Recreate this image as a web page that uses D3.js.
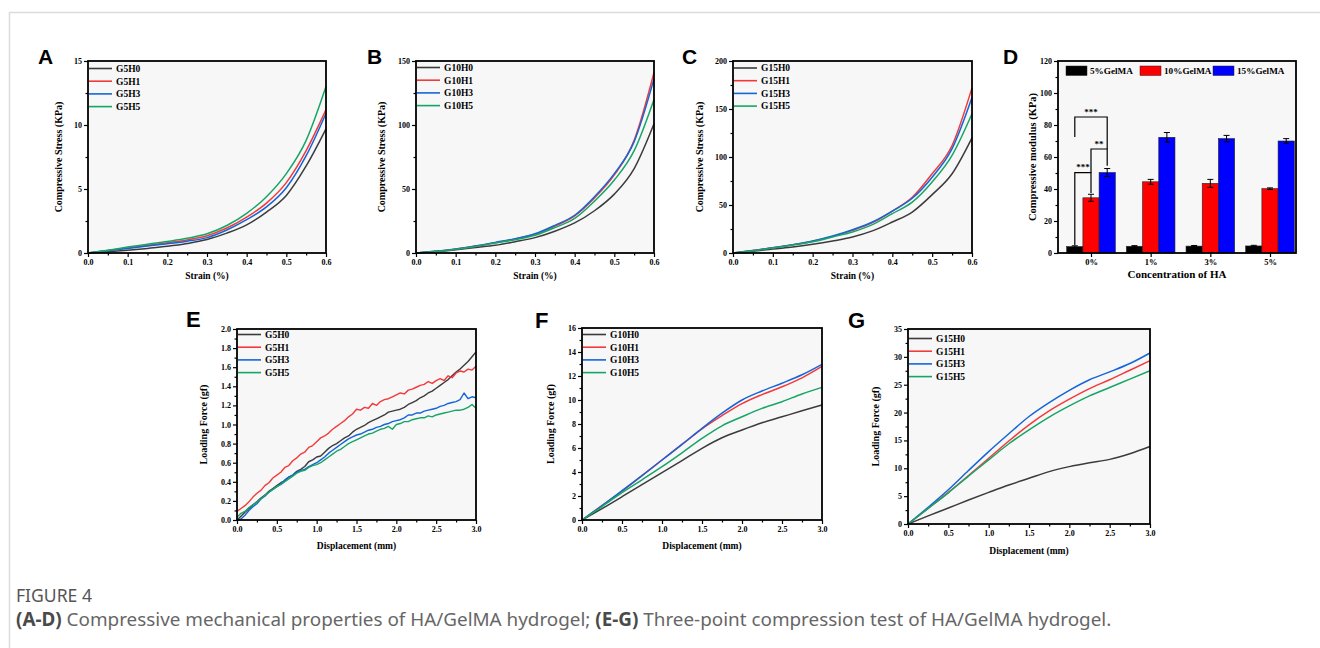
<!DOCTYPE html>
<html><head><meta charset="utf-8">
<script src="https://cdn.jsdelivr.net/npm/d3@7"></script>
<style>
html,body{margin:0;padding:0;background:#fff;}
svg{display:block;}
</style></head>
<body>
<svg id="fig" width="1320" height="648"></svg>
<script>
// ---------------- DATA ----------------
const strainX = [0,0.05,0.1,0.15,0.2,0.25,0.3,0.35,0.4,0.45,0.5,0.55,0.6];
const namesA = ["G5H0","G5H1","G5H3","G5H5"];
const G5H0_s = [0,0.1,0.22,0.36,0.52,0.74,1.05,1.55,2.2,3.2,4.5,6.8,9.7];
const G5H1_s = [0,0.2,0.4,0.6,0.8,1.02,1.35,1.95,2.8,3.9,5.5,8.0,11.2];
const G5H3_s = [0,0.18,0.36,0.54,0.72,0.92,1.2,1.8,2.6,3.6,5.1,7.6,10.9];
const G5H5_s = [0,0.22,0.46,0.68,0.9,1.15,1.5,2.15,3.1,4.4,6.2,8.8,13.0];

const namesB = ["G10H0","G10H1","G10H3","G10H5"];
const G10H0_s = [0,1.1,2.6,4.3,6,8.8,12,17,23.5,33,46,66,101];
const G10H1_s = [0,1.3,3.0,5.4,8.1,11,14.6,21,29,43,61,88,141];
const G10H3_s = [0,1.3,3.1,5.5,8.3,11.2,15,21.6,29.5,44,62,87,136];
const G10H5_s = [0,1.2,2.9,5.1,7.8,10.4,13.8,19.8,27,40.5,57,80,120];

const namesC = ["G15H0","G15H1","G15H3","G15H5"];
const G15H0_s = [0,1.8,4.2,6.2,9,12.5,16.7,23,32.3,42.7,60.8,82.6,120];
const G15H1_s = [0,2.5,5.4,8.6,12.3,17.3,23.6,31.6,43.7,58,82.6,112,172];
const G15H3_s = [0,2.5,5.5,8.7,12.5,17.7,24.3,32.3,43.7,57,79,108.7,162];
const G15H5_s = [0,2.4,5.2,8.3,11.8,16.7,21.9,29.5,41,53,74,101.7,145];

const haCats = ["0%","1%","3%","5%"];
const gelNames = ["5%GelMA","10%GelMA","15%GelMA"];
const mod5 = [4.0,4.2,4.3,4.4];
const mod5Err = [0.5,0.4,0.4,0.4];
const mod10 = [34.5,44.5,43.5,40.2];
const mod10Err = [2.2,1.5,2.5,0.5];
const mod15 = [50.3,72.3,71.5,70.0];
const mod15Err = [2.5,3.0,2.0,1.5];
const sigBrackets = [
  {a:0,b:1,y:50.2,aEnd:5,bEnd:37.5,label:"***"},
  {a:1,b:2,y:65,aEnd:50.2,bEnd:54.5,label:"**"},
  {a:0,b:2,y:85,aEnd:72.5,bEnd:65,label:"***"}
];

const dispE = d3.range(0,61).map(i=>+(i*0.05).toFixed(2));
const G5H0_f = [0.00,0.04,0.08,0.12,0.16,0.19,0.23,0.26,0.30,0.33,0.36,0.39,0.41,0.45,0.47,0.51,0.53,0.56,0.61,0.63,0.66,0.67,0.71,0.75,0.78,0.80,0.83,0.86,0.88,0.92,0.95,0.97,0.99,1.02,1.04,1.06,1.08,1.10,1.13,1.14,1.15,1.16,1.18,1.21,1.23,1.25,1.28,1.30,1.33,1.35,1.38,1.41,1.44,1.47,1.51,1.55,1.58,1.62,1.66,1.71,1.76];
const G5H1_f = [0.09,0.12,0.15,0.19,0.24,0.28,0.31,0.36,0.39,0.44,0.47,0.50,0.55,0.57,0.62,0.65,0.69,0.71,0.76,0.78,0.82,0.86,0.88,0.91,0.95,0.98,1.01,1.04,1.08,1.11,1.16,1.15,1.18,1.17,1.22,1.20,1.24,1.26,1.27,1.29,1.31,1.33,1.32,1.36,1.37,1.39,1.41,1.42,1.45,1.43,1.46,1.48,1.46,1.51,1.49,1.54,1.56,1.55,1.58,1.57,1.61];
const G5H3_f = [0.00,0.01,0.05,0.10,0.14,0.17,0.22,0.25,0.29,0.32,0.35,0.38,0.42,0.45,0.47,0.50,0.52,0.53,0.56,0.58,0.60,0.63,0.66,0.70,0.73,0.76,0.79,0.82,0.85,0.87,0.89,0.90,0.92,0.94,0.95,0.97,0.98,1.00,1.01,1.03,1.04,1.05,1.07,1.10,1.10,1.12,1.12,1.14,1.15,1.16,1.17,1.19,1.20,1.22,1.23,1.24,1.26,1.33,1.27,1.29,1.28];
const G5H5_f = [0.03,0.07,0.09,0.13,0.16,0.19,0.22,0.26,0.29,0.32,0.35,0.37,0.40,0.43,0.46,0.49,0.51,0.52,0.55,0.57,0.58,0.60,0.63,0.66,0.69,0.72,0.74,0.77,0.80,0.82,0.84,0.86,0.88,0.90,0.91,0.93,0.95,0.96,0.98,0.95,1.00,1.01,1.03,1.03,1.05,1.06,1.07,1.07,1.09,1.08,1.10,1.11,1.12,1.13,1.14,1.15,1.15,1.16,1.18,1.21,1.17];

const dispX = [0,0.25,0.5,0.75,1.0,1.25,1.5,1.75,2.0,2.25,2.5,2.75,3.0];
const G10H0_f = [0,0.95,1.94,2.95,3.94,4.95,5.97,6.85,7.5,8.1,8.6,9.1,9.58];
const G10H1_f = [0,1.2,2.4,3.7,5.0,6.3,7.6,8.7,9.7,10.45,11.1,11.85,12.8];
const G10H3_f = [0,1.2,2.44,3.7,5.0,6.3,7.64,8.9,10.0,10.75,11.4,12.1,12.97];
const G10H5_f = [0,1.12,2.28,3.35,4.44,5.6,6.8,7.85,8.6,9.3,9.86,10.5,11.05];

const G15H0_f = [0,1.45,2.86,4.3,5.67,7.0,8.2,9.4,10.3,11.0,11.6,12.6,13.9];
const G15H1_f = [0,2.8,5.67,8.7,11.8,14.9,17.8,20.3,22.4,24.3,25.9,27.6,29.3];
const G15H3_f = [0,3.0,6.14,9.6,13.0,16.2,19.3,21.8,24.0,25.9,27.3,28.8,30.7];
const G15H5_f = [0,2.8,5.6,8.6,11.5,14.4,16.9,19.2,21.2,23.0,24.5,26.0,27.5];

const strainTicks = [0,0.1,0.2,0.3,0.4,0.5,0.6];
const dispTicks = [0,0.5,1.0,1.5,2.0,2.5,3.0];

// ---------------- STYLE ----------------
const lineColors = ["#3b3b3b","#f23a3a","#1565d8","#17a566"];
const barColors = ["#000000","#ff0000","#0000ff"];
const SERIF = "'Liberation Serif','Times New Roman',serif";
const SANS = "'Liberation Sans',Arial,sans-serif";
const svg = d3.select("#fig");

svg.append("line").attr("x1",9).attr("x2",1320).attr("y1",12.5).attr("y2",12.5).attr("stroke","#dcdcdc").attr("stroke-width",1.5);
svg.append("line").attr("x1",9.5).attr("x2",9.5).attr("y1",12).attr("y2",648).attr("stroke","#dcdcdc").attr("stroke-width",1.5);

function panel(o){
  const g = svg.append("g");
  const {l,r,t,b} = o.box;
  g.append("rect").attr("x",l).attr("y",t).attr("width",r-l).attr("height",b-t).attr("fill","#f7f7f7");
  return g;
}

function styleAxis(sel, fs){
  sel.selectAll(".domain").remove();
  sel.selectAll(".tick line").attr("stroke","#000").attr("stroke-width",1.2);
  sel.selectAll(".tick text").attr("font-family",SERIF).attr("font-weight","bold").attr("font-size",fs||8).attr("fill","#000");
}

function axes(g,o){
  const {l,r,t,b} = o.box;
  if(o.xMinor){
    const ax = g.append("g").attr("transform",`translate(0,${b})`).call(d3.axisBottom(o.xs).tickValues(o.xMinor).tickSize(2.5).tickFormat(""));
    styleAxis(ax);
  }
  if(o.yMinor){
    const ay = g.append("g").attr("transform",`translate(${l},0)`).call(d3.axisLeft(o.ys).tickValues(o.yMinor).tickSize(2.5).tickFormat(""));
    styleAxis(ay);
  }
  if(o.xTicks){
    const ax = g.append("g").attr("transform",`translate(0,${b})`).call(d3.axisBottom(o.xs).tickValues(o.xTicks).tickSize(4).tickPadding(2).tickFormat(o.xFmt));
    styleAxis(ax,o.xfs);
  }
  const ay = g.append("g").attr("transform",`translate(${l},0)`).call(d3.axisLeft(o.ys).tickValues(o.yTicks).tickSize(4).tickPadding(2).tickFormat(o.yFmt));
  styleAxis(ay);
  g.append("rect").attr("x",l).attr("y",t).attr("width",r-l).attr("height",b-t).attr("fill","none").attr("stroke","#000").attr("stroke-width",1.8);
  g.append("text").attr("x",(l+r)/2).attr("y",o.xTitleY).attr("text-anchor","middle")
    .attr("font-family",SERIF).attr("font-weight","bold").attr("font-size",o.xtfs||9.5).text(o.xTitle);
  g.append("text").attr("transform",`translate(${l-o.yTitleOff},${(t+b)/2}) rotate(-90)`).attr("text-anchor","middle")
    .attr("font-family",SERIF).attr("font-weight","bold").attr("font-size",o.ytfs||10).text(o.yTitle);
  g.append("text").attr("x",o.letterX).attr("y",o.letterY).attr("font-family",SANS).attr("font-weight","bold")
    .attr("font-size",o.letterFs||21).text(o.letter);
}

function legendLines(g,o,names,spacing){
  const {l,t} = o.box;
  names.forEach((n,i)=>{
    const y = t + o.legTop + i*spacing;
    g.append("line").attr("x1",l+1).attr("x2",l+24).attr("y1",y).attr("y2",y).attr("stroke",lineColors[i]).attr("stroke-width",1.6);
    g.append("text").attr("x",l+28).attr("y",y).attr("dy","0.35em").attr("font-family",SERIF).attr("font-weight","bold").attr("font-size",9.5).text(n);
  });
}

function linePanel(o){
  const g = panel(o);
  const line = d3.line().x(d=>o.xs(d[0])).y(d=>o.ys(d[1])).curve(o.curve||d3.curveMonotoneX);
  o.series.forEach((s,i)=>{
    g.append("path").datum(o.x.map((xv,j)=>[xv,s[j]])).attr("d",line).attr("fill","none")
      .attr("stroke",lineColors[i]).attr("stroke-width",o.sw||1.5).attr("stroke-linejoin","round");
  });
  legendLines(g,o,o.names,12.7);
  axes(g,o);
}

function mids(ticks){ const m=[]; for(let i=0;i<ticks.length-1;i++) m.push((ticks[i]+ticks[i+1])/2); return m; }

// ---- A ----
(function(){
  const box={l:88,r:326,t:61,b:253};
  const yT=[0,5,10,15];
  linePanel({box, xs:d3.scaleLinear([0,0.6],[box.l,box.r]), ys:d3.scaleLinear([0,15],[box.b,box.t]),
    x:strainX, series:[G5H0_s,G5H1_s,G5H3_s,G5H5_s], names:namesA, legTop:7.5,
    xTicks:strainTicks, xMinor:mids(strainTicks), yTicks:yT, yMinor:mids(yT),
    xFmt:d3.format(".1f"), yFmt:d3.format("d"),
    xTitle:"Strain (%)", xTitleY:279, yTitle:"Compressive Stress (KPa)", yTitleOff:26,
    letter:"A", letterX:38, letterY:64});
})();
// ---- B ----
(function(){
  const box={l:416,r:654,t:61,b:253};
  const yT=[0,50,100,150];
  linePanel({box, xs:d3.scaleLinear([0,0.6],[box.l,box.r]), ys:d3.scaleLinear([0,150],[box.b,box.t]),
    x:strainX, series:[G10H0_s,G10H1_s,G10H3_s,G10H5_s], names:namesB, legTop:6.5,
    xTicks:strainTicks, xMinor:mids(strainTicks), yTicks:yT, yMinor:mids(yT),
    xFmt:d3.format(".1f"), yFmt:d3.format("d"),
    xTitle:"Strain (%)", xTitleY:279, yTitle:"Compressive Stress (KPa)", yTitleOff:31,
    letter:"B", letterX:367, letterY:64});
})();
// ---- C ----
(function(){
  const box={l:733,r:972,t:61,b:253};
  const yT=[0,50,100,150,200];
  linePanel({box, xs:d3.scaleLinear([0,0.6],[box.l,box.r]), ys:d3.scaleLinear([0,200],[box.b,box.t]),
    x:strainX, series:[G15H0_s,G15H1_s,G15H3_s,G15H5_s], names:namesC, legTop:7,
    xTicks:strainTicks, xMinor:mids(strainTicks), yTicks:yT, yMinor:mids(yT),
    xFmt:d3.format(".1f"), yFmt:d3.format("d"),
    xTitle:"Strain (%)", xTitleY:279, yTitle:"Compressive Stress (KPa)", yTitleOff:30,
    letter:"C", letterX:682, letterY:64});
})();
// ---- D ----
(function(){
  const box={l:1058,r:1296,t:61,b:253};
  const g = panel({box});
  const xs = d3.scalePoint().domain(haCats).range([box.l+33,box.r-26]);
  const ys = d3.scaleLinear([0,120],[box.b,box.t]);
  const bw = 16.2;
  const groups=[mod5,mod10,mod15], errs=[mod5Err,mod10Err,mod15Err];
  const cx = (ci,si)=> xs(haCats[ci]) + (si-1)*bw;
  groups.forEach((vals,si)=>{
    vals.forEach((v,ci)=>{
      g.append("rect").attr("x",cx(ci,si)-bw/2).attr("y",ys(v)).attr("width",bw).attr("height",ys(0)-ys(v))
        .attr("fill",barColors[si]).attr("stroke","#222").attr("stroke-width",0.6);
      const e = errs[si][ci], xc=cx(ci,si);
      g.append("line").attr("x1",xc).attr("x2",xc).attr("y1",ys(v+e)).attr("y2",ys(v-e)).attr("stroke","#000").attr("stroke-width",1);
      [v+e,v-e].forEach(yy=>g.append("line").attr("x1",xc-3).attr("x2",xc+3).attr("y1",ys(yy)).attr("y2",ys(yy)).attr("stroke","#000").attr("stroke-width",1));
    });
  });
  sigBrackets.forEach(s=>{
    const xa=cx(0,s.a), xb=cx(0,s.b);
    g.append("path").attr("d",`M${xa},${ys(s.aEnd)}V${ys(s.y)}H${xb}V${ys(s.bEnd)}`).attr("fill","none").attr("stroke","#000").attr("stroke-width",1.2);
    g.append("text").attr("x",(xa+xb)/2).attr("y",ys(s.y)-2.5).attr("text-anchor","middle").attr("font-family",SERIF).attr("font-weight","bold").attr("font-size",9).text(s.label);
  });
  const legX=[1066,1140,1213];
  gelNames.forEach((n,i)=>{
    g.append("rect").attr("x",legX[i]).attr("y",66).attr("width",21).attr("height",9.5).attr("fill",barColors[i]).attr("stroke","#222").attr("stroke-width",0.5);
    g.append("text").attr("x",legX[i]+24).attr("y",71).attr("dy","0.35em").attr("font-family",SERIF).attr("font-weight","bold").attr("font-size",9.2).text(n);
  });
  const yT=[0,20,40,60,80,100,120];
  axes(g,{box,xs,ys,yTicks:yT,yMinor:mids(yT),yFmt:d3.format("d"),xTicks:haCats,xFmt:d=>d,xfs:8.5,
    xTitle:"Concentration of HA", xTitleY:278, xtfs:11, yTitle:"Compressive modulus (KPa)", yTitleOff:22, ytfs:10.5,
    letter:"D", letterX:1003, letterY:64});
})();
// ---- E ----
(function(){
  const box={l:237,r:476,t:329,b:520};
  const yT=[0,0.2,0.4,0.6,0.8,1.0,1.2,1.4,1.6,1.8,2.0];
  linePanel({box, xs:d3.scaleLinear([0,3],[box.l,box.r]), ys:d3.scaleLinear([0,2],[box.b,box.t]),
    x:dispE, series:[G5H0_f,G5H1_f,G5H3_f,G5H5_f], names:namesA, legTop:5.5, curve:d3.curveLinear, sw:1.4,
    xTicks:dispTicks, xMinor:mids(dispTicks), yTicks:yT, yMinor:mids(yT),
    xFmt:d3.format(".1f"), yFmt:d3.format(".1f"),
    xTitle:"Displacement (mm)", xTitleY:549, yTitle:"Loading Force (gf)", yTitleOff:30,
    letter:"E", letterX:186, letterY:327, letterFs:22});
})();
// ---- F ----
(function(){
  const box={l:582,r:822,t:328,b:520};
  const yT=[0,2,4,6,8,10,12,14,16];
  linePanel({box, xs:d3.scaleLinear([0,3],[box.l,box.r]), ys:d3.scaleLinear([0,16],[box.b,box.t]),
    x:dispX, series:[G10H0_f,G10H1_f,G10H3_f,G10H5_f], names:namesB, legTop:6.5,
    xTicks:dispTicks, xMinor:mids(dispTicks), yTicks:yT, yMinor:mids(yT),
    xFmt:d3.format(".1f"), yFmt:d3.format("d"),
    xTitle:"Displacement (mm)", xTitleY:549, yTitle:"Loading Force (gf)", yTitleOff:28,
    letter:"F", letterX:535, letterY:328, letterFs:22});
})();
// ---- G ----
(function(){
  const box={l:908,r:1150,t:329,b:524};
  const yT=[0,5,10,15,20,25,30,35];
  linePanel({box, xs:d3.scaleLinear([0,3],[box.l,box.r]), ys:d3.scaleLinear([0,35],[box.b,box.t]),
    x:dispX, series:[G15H0_f,G15H1_f,G15H3_f,G15H5_f], names:namesC, legTop:9.5,
    xTicks:dispTicks, xMinor:mids(dispTicks), yTicks:yT, yMinor:mids(yT),
    xFmt:d3.format(".1f"), yFmt:d3.format("d"),
    xTitle:"Displacement (mm)", xTitleY:554, yTitle:"Loading Force (gf)", yTitleOff:29,
    letter:"G", letterX:848, letterY:328, letterFs:22});
})();

// ---- caption ----
const fig = svg.append("text").attr("x",16).attr("y",602).attr("font-family","'Noto Sans','Open Sans',sans-serif")
  .attr("font-size",15).attr("fill","#555").text("FIGURE 4");
const fw = fig.node().getComputedTextLength();
fig.attr("font-size", 15*76/fw);
const cap = svg.append("text").attr("x",16).attr("y",626).attr("font-family","'Noto Sans','Open Sans',sans-serif")
  .attr("font-size",15).attr("fill","#666");
cap.append("tspan").attr("font-weight","bold").attr("fill","#4a4a4a").text("(A-D)");
cap.append("tspan").text(" Compressive mechanical properties of HA/GelMA hydrogel; ");
cap.append("tspan").attr("font-weight","bold").attr("fill","#4a4a4a").text("(E-G)");
cap.append("tspan").text(" Three-point compression test of HA/GelMA hydrogel.");
const w = cap.node().getComputedTextLength();
cap.attr("font-size", 15*1096/w);
</script>
</body></html>
